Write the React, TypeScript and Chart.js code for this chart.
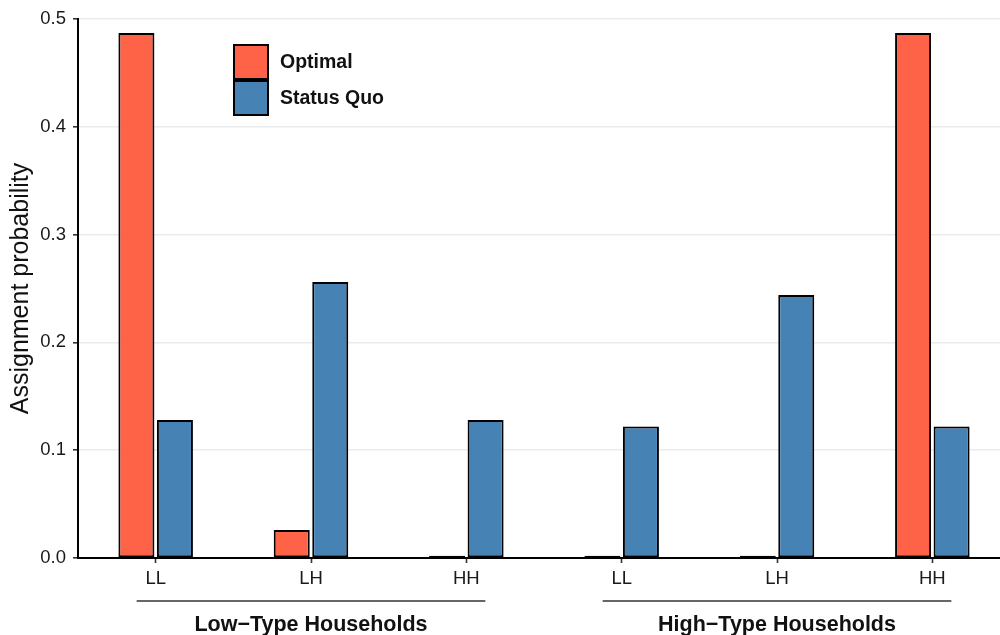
import React, { useEffect, useRef } from "react";
import { Chart, registerables } from "chart.js";

Chart.register(...registerables);

const categories = ["LL", "LH", "HH", "LL", "LH", "HH"];
const optimalValues = [0.487, 0.026, 0.002, 0.002, 0.002, 0.487];
const statusQuoValues = [0.128, 0.256, 0.128, 0.122, 0.244, 0.122];
const seriesNames = ["Optimal", "Status Quo"];
const seriesColors = ["#FF6347", "#4682B4"];
const yTickValues = [0, 0.1, 0.2, 0.3, 0.4, 0.5];
const groupLabels = ["Low\u2212Type Households", "High\u2212Type Households"];
const groupStart = [0, 3];
const groupEnd = [2, 5];
const yTitle = "Assignment probability";

const FONT = "'Liberation Sans', Arial, Helvetica, sans-serif";

const extrasPlugin = {
  id: "extras",
  afterDraw(chart: any) {
    const ctx = chart.ctx;
    const x = chart.scales.x;
    ctx.save();
    // group brackets and labels
    for (let g = 0; g < groupLabels.length; g++) {
      const x0 = x.getPixelForValue(groupStart[g]) - 19;
      const x1 = x.getPixelForValue(groupEnd[g]) + 19;
      ctx.strokeStyle = "#333333";
      ctx.lineWidth = 1.6;
      ctx.beginPath();
      ctx.moveTo(x0, 601);
      ctx.lineTo(x1, 601);
      ctx.stroke();
      ctx.fillStyle = "#111111";
      ctx.font = `bold 21.5px ${FONT}`;
      ctx.textAlign = "center";
      ctx.textBaseline = "alphabetic";
      ctx.fillText(groupLabels[g], (x0 + x1) / 2, 631);
    }
    // legend
    const ds = chart.data.datasets;
    for (let i = 0; i < ds.length; i++) {
      const top = 45 + i * 36;
      ctx.fillStyle = ds[i].backgroundColor;
      ctx.fillRect(234, top, 34, 34);
      ctx.strokeStyle = "#000000";
      ctx.lineWidth = 2;
      ctx.strokeRect(234, top, 34, 34);
      ctx.fillStyle = "#111111";
      ctx.font = `bold 19.5px ${FONT}`;
      ctx.textAlign = "left";
      ctx.textBaseline = "middle";
      ctx.fillText(ds[i].label, 280, top + 18);
    }
    ctx.restore();
  },
};

export default function App() {
  const ref = useRef<HTMLCanvasElement | null>(null);
  useEffect(() => {
    if (!ref.current) return;
    const chart = new Chart(ref.current, {
      type: "bar",
      data: {
        labels: categories,
        datasets: [
          {
            label: seriesNames[0],
            data: optimalValues,
            backgroundColor: seriesColors[0],
            borderColor: "#000000",
            borderWidth: 2,
            borderSkipped: false,
            categoryPercentage: 0.496,
            barPercentage: 0.935,
          },
          {
            label: seriesNames[1],
            data: statusQuoValues,
            backgroundColor: seriesColors[1],
            borderColor: "#000000",
            borderWidth: 2,
            borderSkipped: false,
            categoryPercentage: 0.496,
            barPercentage: 0.935,
          },
        ],
      },
      options: {
        responsive: false,
        animation: false,
        layout: { padding: { top: 19, left: 0, right: 0, bottom: 0 } },
        plugins: {
          legend: { display: false },
          tooltip: { enabled: false },
        },
        scales: {
          x: {
            offset: true,
            grid: {
              display: true,
              offset: false,
              drawOnChartArea: false,
              drawTicks: true,
              tickLength: 5,
              tickColor: "#333333",
              tickWidth: 1.6,
            },
            border: { display: true, color: "#000000", width: 2 },
            ticks: {
              color: "#1a1a1a",
              font: { family: FONT, size: 18.5 },
              padding: 5,
              maxRotation: 0,
            },
            afterFit(scale: any) {
              scale.height = 77;
            },
          },
          y: {
            min: 0,
            max: 0.5,
            afterBuildTicks(scale: any) {
              scale.ticks = yTickValues.map((v) => ({ value: v }));
            },
            grid: {
              color: "#ebebeb",
              lineWidth: 1.6,
              tickLength: 5,
              tickColor: "#333333",
              tickWidth: 1.6,
            },
            border: { display: true, color: "#000000", width: 2 },
            ticks: {
              color: "#1a1a1a",
              font: { family: FONT, size: 18.5 },
              padding: 7,
              callback: (v: any) => Number(v).toFixed(1),
            },
            title: {
              display: true,
              text: yTitle,
              color: "#111111",
              font: { family: FONT, size: 25 },
              padding: { top: 6, bottom: 0 },
            },
            afterFit(scale: any) {
              scale.width = 78;
            },
          },
        },
      },
      plugins: [extrasPlugin],
    });
    return () => chart.destroy();
  }, []);
  return (
    <div
      style={{
        position: "absolute",
        left: 0,
        top: 0,
        width: 1000,
        height: 635,
        overflow: "hidden",
        background: "#ffffff",
      }}
    >
      <canvas ref={ref} width={1010} height={635} style={{ display: "block" }} />
    </div>
  );
}
